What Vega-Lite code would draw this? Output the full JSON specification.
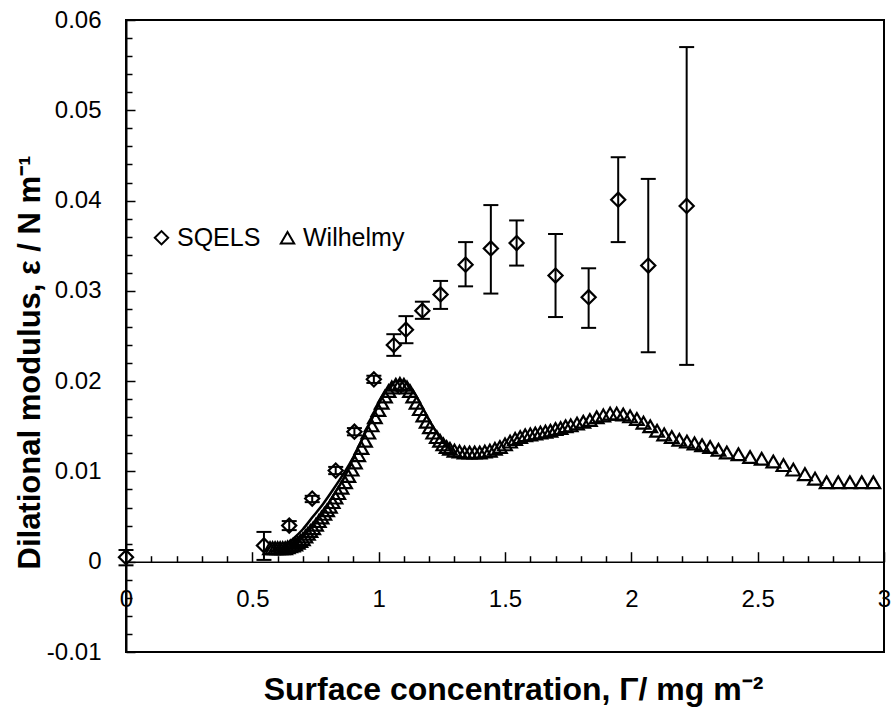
{
  "$schema": "https://vega.github.io/schema/vega-lite/v6.json",
  "width": 758,
  "height": 632,
  "autosize": {"type": "none"},
  "padding": {"left": 126, "top": 20, "right": 8, "bottom": 61},
  "background": "white",
  "config": {
    "view": {"stroke": "black", "strokeWidth": 2},
    "font": "Liberation Sans",
    "axis": {"grid": false, "labelFont": "Liberation Sans", "titleFont": "Liberation Sans", "labelColor": "black", "titleColor": "black", "domainColor": "black", "tickColor": "black", "labelOverlap": false, "labelFlush": false, "labelBound": false}
  },
  "resolve": {"axis": {"x": "independent", "y": "independent"}},
  "datasets": {
    "sqels": [
      {"x": 0.0, "y": 0.0005, "lo": -0.0004, "hi": 0.0013},
      {"x": 0.546, "y": 0.0018, "lo": 0.0002, "hi": 0.0033},
      {"x": 0.646, "y": 0.0040, "lo": 0.0035, "hi": 0.0045},
      {"x": 0.737, "y": 0.0070, "lo": 0.0066, "hi": 0.0073},
      {"x": 0.830, "y": 0.0101, "lo": 0.0097, "hi": 0.0105},
      {"x": 0.904, "y": 0.0144, "lo": 0.0140, "hi": 0.0148},
      {"x": 0.981, "y": 0.0202, "lo": 0.0198, "hi": 0.0206},
      {"x": 1.060, "y": 0.0240, "lo": 0.0228, "hi": 0.0252},
      {"x": 1.108, "y": 0.0257, "lo": 0.0242, "hi": 0.0272},
      {"x": 1.173, "y": 0.0278, "lo": 0.0269, "hi": 0.0288},
      {"x": 1.245, "y": 0.0296, "lo": 0.0280, "hi": 0.0311},
      {"x": 1.344, "y": 0.0329, "lo": 0.0305, "hi": 0.0354},
      {"x": 1.444, "y": 0.0347, "lo": 0.0297, "hi": 0.0395},
      {"x": 1.546, "y": 0.0353, "lo": 0.0328, "hi": 0.0378},
      {"x": 1.700, "y": 0.0317, "lo": 0.0271, "hi": 0.0363},
      {"x": 1.831, "y": 0.0293, "lo": 0.0259, "hi": 0.0325},
      {"x": 1.948, "y": 0.0401, "lo": 0.0354, "hi": 0.0448},
      {"x": 2.067, "y": 0.0328, "lo": 0.0232, "hi": 0.0424},
      {"x": 2.219, "y": 0.0394, "lo": 0.0218, "hi": 0.0570}
    ],
    "wil": [
      {"x": 0.570, "y": 0.0015}, {"x": 0.580, "y": 0.0015}, {"x": 0.590, "y": 0.0015}, {"x": 0.600, "y": 0.0015},
      {"x": 0.610, "y": 0.0015}, {"x": 0.620, "y": 0.0015}, {"x": 0.630, "y": 0.0015}, {"x": 0.640, "y": 0.0016},
      {"x": 0.650, "y": 0.0017}, {"x": 0.660, "y": 0.0018}, {"x": 0.670, "y": 0.0019}, {"x": 0.680, "y": 0.0021},
      {"x": 0.690, "y": 0.0023}, {"x": 0.700, "y": 0.0025}, {"x": 0.710, "y": 0.0028}, {"x": 0.720, "y": 0.0031},
      {"x": 0.730, "y": 0.0034}, {"x": 0.741, "y": 0.0037}, {"x": 0.752, "y": 0.0041}, {"x": 0.763, "y": 0.0045},
      {"x": 0.774, "y": 0.0049}, {"x": 0.785, "y": 0.0053}, {"x": 0.796, "y": 0.0057}, {"x": 0.807, "y": 0.0061},
      {"x": 0.818, "y": 0.0066}, {"x": 0.829, "y": 0.0071}, {"x": 0.840, "y": 0.0076}, {"x": 0.853, "y": 0.0082},
      {"x": 0.867, "y": 0.0088}, {"x": 0.880, "y": 0.0095}, {"x": 0.893, "y": 0.0102}, {"x": 0.906, "y": 0.0110},
      {"x": 0.919, "y": 0.0118}, {"x": 0.932, "y": 0.0126}, {"x": 0.946, "y": 0.0134}, {"x": 0.959, "y": 0.0143},
      {"x": 0.972, "y": 0.0151}, {"x": 0.985, "y": 0.0160}, {"x": 0.999, "y": 0.0168}, {"x": 1.012, "y": 0.0176},
      {"x": 1.025, "y": 0.0183}, {"x": 1.039, "y": 0.0189}, {"x": 1.052, "y": 0.0193}, {"x": 1.068, "y": 0.0196},
      {"x": 1.084, "y": 0.0197}, {"x": 1.100, "y": 0.0196}, {"x": 1.112, "y": 0.0193}, {"x": 1.124, "y": 0.0189},
      {"x": 1.137, "y": 0.0183}, {"x": 1.150, "y": 0.0176}, {"x": 1.163, "y": 0.0169}, {"x": 1.177, "y": 0.0162},
      {"x": 1.190, "y": 0.0155}, {"x": 1.203, "y": 0.0149}, {"x": 1.216, "y": 0.0143}, {"x": 1.230, "y": 0.0138},
      {"x": 1.243, "y": 0.0134}, {"x": 1.256, "y": 0.0130}, {"x": 1.269, "y": 0.0127}, {"x": 1.282, "y": 0.0125},
      {"x": 1.300, "y": 0.0123}, {"x": 1.320, "y": 0.0122}, {"x": 1.340, "y": 0.0121}, {"x": 1.360, "y": 0.0121},
      {"x": 1.380, "y": 0.0121}, {"x": 1.400, "y": 0.0121}, {"x": 1.420, "y": 0.0122}, {"x": 1.440, "y": 0.0123},
      {"x": 1.460, "y": 0.0125}, {"x": 1.480, "y": 0.0127}, {"x": 1.500, "y": 0.0130}, {"x": 1.520, "y": 0.0133},
      {"x": 1.540, "y": 0.0136}, {"x": 1.560, "y": 0.0138}, {"x": 1.580, "y": 0.0140}, {"x": 1.600, "y": 0.0141},
      {"x": 1.620, "y": 0.0142}, {"x": 1.640, "y": 0.0143}, {"x": 1.660, "y": 0.0144}, {"x": 1.680, "y": 0.0145},
      {"x": 1.700, "y": 0.0147}, {"x": 1.720, "y": 0.0148}, {"x": 1.740, "y": 0.0150}, {"x": 1.760, "y": 0.0151},
      {"x": 1.785, "y": 0.0153}, {"x": 1.810, "y": 0.0155}, {"x": 1.836, "y": 0.0157}, {"x": 1.863, "y": 0.0160},
      {"x": 1.889, "y": 0.0162}, {"x": 1.916, "y": 0.0164}, {"x": 1.942, "y": 0.0164}, {"x": 1.968, "y": 0.0163},
      {"x": 1.995, "y": 0.0161}, {"x": 2.022, "y": 0.0158}, {"x": 2.048, "y": 0.0154}, {"x": 2.075, "y": 0.0150},
      {"x": 2.102, "y": 0.0145}, {"x": 2.130, "y": 0.0141}, {"x": 2.160, "y": 0.0138}, {"x": 2.190, "y": 0.0135},
      {"x": 2.220, "y": 0.0133}, {"x": 2.250, "y": 0.0131}, {"x": 2.280, "y": 0.0129}, {"x": 2.312, "y": 0.0127},
      {"x": 2.345, "y": 0.0124}, {"x": 2.378, "y": 0.0121}, {"x": 2.424, "y": 0.0119}, {"x": 2.470, "y": 0.0116},
      {"x": 2.516, "y": 0.0114}, {"x": 2.562, "y": 0.0111}, {"x": 2.602, "y": 0.0107}, {"x": 2.641, "y": 0.0102},
      {"x": 2.687, "y": 0.0097}, {"x": 2.727, "y": 0.0092}, {"x": 2.773, "y": 0.0088}, {"x": 2.819, "y": 0.0088},
      {"x": 2.865, "y": 0.0088}, {"x": 2.912, "y": 0.0088}, {"x": 2.958, "y": 0.0088}
    ],
    "fit": [
      {"x": 0.57, "y": 0.0011}, {"x": 0.62, "y": 0.0016}, {"x": 0.66, "y": 0.0025}, {"x": 0.70, "y": 0.0036},
      {"x": 0.74, "y": 0.0050}, {"x": 0.78, "y": 0.0064}, {"x": 0.82, "y": 0.0080}, {"x": 0.86, "y": 0.0097},
      {"x": 0.90, "y": 0.0116}, {"x": 0.94, "y": 0.0139}, {"x": 0.98, "y": 0.0162}, {"x": 1.01, "y": 0.0180},
      {"x": 1.04, "y": 0.0193}, {"x": 1.07, "y": 0.0200}, {"x": 1.10, "y": 0.0200}, {"x": 1.12, "y": 0.0195}
    ]
  },
  "layer": [
    {
      "data": {"name": "wil"},
      "mark": {"type": "point", "filled": false, "strokeWidth": 2.2, "size": 185, "color": "black", "opacity": 1},
      "encoding": {
        "x": {
          "field": "x", "type": "quantitative",
          "scale": {"domain": [0, 3], "nice": false, "zero": false},
          "axis": {
            "orient": "bottom",
            "offset": -90.29,
            "values": [0, 0.5, 1, 1.5, 2, 2.5, 3],
            "format": "~g",
            "tickSize": -10,
            "tickWidth": 1.5,
            "domainWidth": 1.5,
            "labelFontSize": 24,
            "labelPadding": 36,
            "title": "Surface concentration, Γ/ mg m⁻²",
            "titleFontSize": 32,
            "titleFontWeight": "bold",
            "titleX": 387,
            "titleY": 128,
            "titleAlign": "center",
            "titleBaseline": "middle"
          }
        },
        "y": {
          "field": "y", "type": "quantitative",
          "scale": {"domain": [-0.01, 0.06], "nice": false, "zero": false},
          "axis": {
            "orient": "left",
            "values": [-0.01, 0, 0.01, 0.02, 0.03, 0.04, 0.05, 0.06],
            "labelExpr": "datum.value < -0.0001 ? '-' + format(-datum.value, '~g') : format(datum.value, '~g')",
            "tickSize": -9,
            "tickWidth": 1.5,
            "domainWidth": 2,
            "labelFontSize": 24,
            "labelPadding": 34,
            "title": "Dilational modulus, ε / N m⁻¹",
            "titleFontSize": 31,
            "titleFontWeight": "bold",
            "titleAngle": -90,
            "titleX": -96,
            "titleY": 342,
            "titleAlign": "center",
            "titleBaseline": "middle"
          }
        },
        "shape": {
          "datum": "Wilhelmy", "type": "nominal",
          "scale": {"domain": ["SQELS", "Wilhelmy"], "range": ["diamond", "triangle-up"]},
          "legend": {
            "orient": "none", "legendX": 23, "legendY": 205, "direction": "horizontal", "title": null,
            "labelFontSize": 25, "labelFont": "Liberation Sans", "labelColor": "black",
            "symbolSize": 180, "symbolStrokeWidth": 2, "symbolStrokeColor": "black", "symbolFillColor": "transparent",
            "labelOffset": 3, "columnPadding": 14
          }
        }
      }
    },
    {
      "data": {"name": "fit"},
      "mark": {"type": "line", "color": "black", "strokeWidth": 2.5, "interpolate": "monotone"},
      "encoding": {
        "x": {
          "field": "x", "type": "quantitative",
          "axis": {
            "orient": "bottom", "offset": -90.29,
            "values": [0.1, 0.2, 0.3, 0.4, 0.6, 0.7, 0.8, 0.9, 1.1, 1.2, 1.3, 1.4, 1.6, 1.7, 1.8, 1.9, 2.1, 2.2, 2.3, 2.4, 2.6, 2.7, 2.8, 2.9],
            "labels": false, "domain": false, "tickSize": -6, "tickWidth": 1.5, "title": null
          }
        },
        "y": {
          "field": "y", "type": "quantitative",
          "axis": {
            "orient": "left",
            "values": [-0.008, -0.006, -0.004, -0.002, 0.002, 0.004, 0.006, 0.008, 0.012, 0.014, 0.016, 0.018, 0.022, 0.024, 0.026, 0.028, 0.032, 0.034, 0.036, 0.038, 0.042, 0.044, 0.046, 0.048, 0.052, 0.054, 0.056, 0.058],
            "labels": false, "domain": false, "tickSize": -6, "tickWidth": 1.5, "title": null
          }
        }
      }
    },
    {
      "data": {"name": "sqels"},
      "mark": {"type": "rule", "color": "black", "strokeWidth": 2},
      "encoding": {
        "x": {"field": "x", "type": "quantitative", "axis": null},
        "y": {"field": "lo", "type": "quantitative", "axis": null},
        "y2": {"field": "hi"}
      }
    },
    {
      "data": {"name": "sqels"},
      "mark": {"type": "tick", "orient": "horizontal", "color": "black", "size": 15, "thickness": 2, "opacity": 1},
      "encoding": {
        "x": {"field": "x", "type": "quantitative", "axis": null},
        "y": {"field": "lo", "type": "quantitative", "axis": null}
      }
    },
    {
      "data": {"name": "sqels"},
      "mark": {"type": "tick", "orient": "horizontal", "color": "black", "size": 15, "thickness": 2, "opacity": 1},
      "encoding": {
        "x": {"field": "x", "type": "quantitative", "axis": null},
        "y": {"field": "hi", "type": "quantitative", "axis": null}
      }
    },
    {
      "data": {"name": "sqels"},
      "mark": {"type": "point", "filled": false, "strokeWidth": 2.2, "size": 200, "color": "black", "opacity": 1},
      "encoding": {
        "x": {"field": "x", "type": "quantitative", "axis": null},
        "y": {"field": "y", "type": "quantitative", "axis": null},
        "shape": {"datum": "SQELS", "type": "nominal"}
      }
    }
  ]
}
